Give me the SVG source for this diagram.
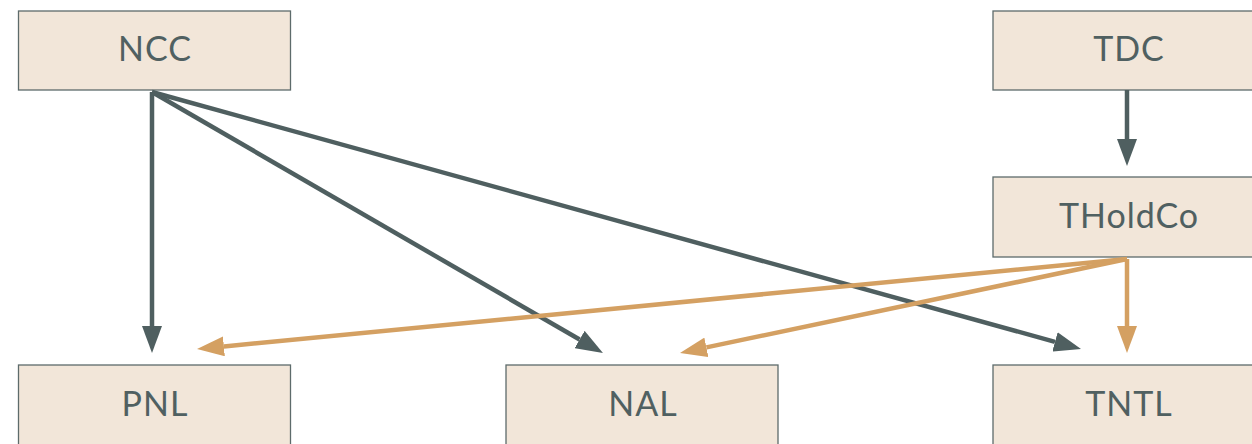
<svg xmlns="http://www.w3.org/2000/svg" width="1252" height="444" viewBox="0 0 1252 444">
<style>
.box{fill:#f2e6d9;stroke:#5d6b6b;stroke-width:1.3}
.lbl{font-family:"Lato","Liberation Sans",sans-serif;font-size:34px;font-weight:400;letter-spacing:1px;fill:#506061;text-anchor:middle}
.dk{stroke:#4f5f60;stroke-width:4.5;fill:none}
.or{stroke:#d4a062;stroke-width:4.5;fill:none}
</style>
<defs>
<marker id="ad" viewBox="0 0 27 20" refX="0" refY="10" markerWidth="27" markerHeight="20" markerUnits="userSpaceOnUse" orient="auto"><path d="M0,0 L27,10 L0,20 z" fill="#4f5f60"/></marker>
<marker id="ao" viewBox="0 0 27 20" refX="0" refY="10" markerWidth="27" markerHeight="20" markerUnits="userSpaceOnUse" orient="auto"><path d="M0,0 L27,10 L0,20 z" fill="#d4a062"/></marker>
</defs>
<rect width="1252" height="444" fill="#ffffff"/>
<g id="NCC"><rect class="box" x="18.5" y="11" width="272" height="79"/><text class="lbl" x="155" y="61">NCC</text></g>
<g id="TDC"><rect class="box" x="993" y="11" width="272" height="79"/><text class="lbl" x="1129" y="61">TDC</text></g>
<g id="THoldCo"><rect class="box" x="993" y="177" width="272" height="80"/><text class="lbl" x="1129" y="228">THoldCo</text></g>
<g id="PNL"><rect class="box" x="18.5" y="365" width="272" height="90"/><text class="lbl" x="155" y="416">PNL</text></g>
<g id="NAL"><rect class="box" x="506" y="365" width="272" height="90"/><text class="lbl" x="643" y="416">NAL</text></g>
<g id="TNTL"><rect class="box" x="993" y="365" width="272" height="90"/><text class="lbl" x="1129" y="416">TNTL</text></g>
<g id="connectors">
<path class="dk" d="M152,92 L152,326" marker-end="url(#ad)"/>
<path class="dk" d="M152,92 L579.6,339.5" marker-end="url(#ad)"/>
<path class="dk" d="M152,92 L1055,341.8" marker-end="url(#ad)"/>
<path class="dk" d="M1127,90 L1127,139" marker-end="url(#ad)"/>
<path class="or" d="M1127,259 L223.9,346.4" marker-end="url(#ao)"/>
<path class="or" d="M1127,259 L706.4,347.4" marker-end="url(#ao)"/>
<path class="or" d="M1127,259 L1127,326" marker-end="url(#ao)"/>
</g>
</svg>
